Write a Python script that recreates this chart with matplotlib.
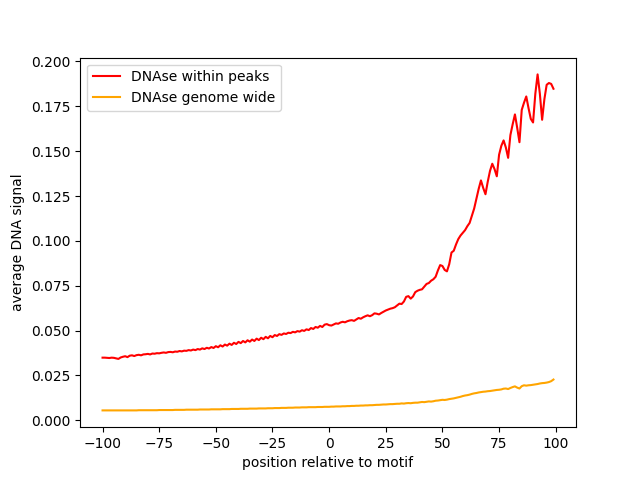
import numpy as np
import matplotlib.pyplot as plt

# positions relative to the motif
pos = np.arange(-100, 100)

# average DNAse signal within peaks
dnase_peaks = [
    0.0349, 0.0349, 0.0348, 0.0347, 0.0349, 0.0348, 0.0345, 0.0342, 0.0350, 0.0354,
    0.0357, 0.0352, 0.0360, 0.0362, 0.0358, 0.0363, 0.0365, 0.0362, 0.0367, 0.0368,
    0.0370, 0.0367, 0.0372, 0.0371, 0.0374, 0.0373, 0.0376, 0.0378, 0.0376, 0.0380,
    0.0381, 0.0379, 0.0383, 0.0382, 0.0386, 0.0384, 0.0388, 0.0387, 0.0391, 0.0389,
    0.0394, 0.0391, 0.0397, 0.0394, 0.0401, 0.0397, 0.0404, 0.0400, 0.0408, 0.0403,
    0.0413, 0.0407, 0.0418, 0.0411, 0.0422, 0.0416, 0.0427, 0.0420, 0.0432, 0.0425,
    0.0437, 0.0430, 0.0442, 0.0434, 0.0446, 0.0438, 0.0450, 0.0442, 0.0455, 0.0447,
    0.0460, 0.0452, 0.0465, 0.0457, 0.0470, 0.0463, 0.0475, 0.0470, 0.0480, 0.0476,
    0.0484, 0.0481, 0.0488, 0.0486, 0.0493, 0.0490, 0.0497, 0.0494, 0.0502, 0.0498,
    0.0507, 0.0503, 0.0514, 0.0509, 0.0520, 0.0516, 0.0526, 0.0520, 0.0533, 0.0536,
    0.0530, 0.0528, 0.0534, 0.0540, 0.0538, 0.0545, 0.0549, 0.0546, 0.0552, 0.0556,
    0.0558, 0.0554, 0.0562, 0.0570, 0.0566, 0.0574, 0.0580, 0.0585, 0.0580, 0.0586,
    0.0596, 0.0594, 0.0590, 0.0598, 0.0605, 0.0612, 0.0617, 0.0622, 0.0625, 0.0630,
    0.0640, 0.0650, 0.0648, 0.0662, 0.0688, 0.0692, 0.0678, 0.0690, 0.0714, 0.0722,
    0.0727, 0.0730, 0.0745, 0.0760, 0.0765, 0.0778, 0.0786, 0.0800, 0.0835, 0.0865,
    0.0860, 0.0838, 0.0830, 0.0870, 0.0935, 0.0945, 0.0980, 0.1010, 0.1030, 0.1045,
    0.1060, 0.1082, 0.1100, 0.1140, 0.1180, 0.1235, 0.1290, 0.1337, 0.1295, 0.1260,
    0.1330, 0.1390, 0.1430, 0.1400, 0.1360, 0.1480, 0.1530, 0.1560, 0.1520, 0.1463,
    0.1590, 0.1650, 0.1705, 0.1630, 0.1550, 0.1730, 0.1770, 0.1805, 0.1740, 0.1680,
    0.1660, 0.1820, 0.1928, 0.1820, 0.1675, 0.1790, 0.1870, 0.1880, 0.1875, 0.1848,
]

# average DNAse signal genome wide
dnase_genome = [
    0.0055, 0.0055, 0.0055, 0.0055, 0.0055, 0.0055, 0.0055, 0.0055, 0.0055, 0.0055,
    0.0055, 0.0055, 0.0055, 0.0055, 0.0055, 0.0055, 0.0056, 0.0056, 0.0056, 0.0056,
    0.0056, 0.0056, 0.0056, 0.0056, 0.0056, 0.0057, 0.0057, 0.0057, 0.0057, 0.0057,
    0.0057, 0.0057, 0.0058, 0.0058, 0.0058, 0.0058, 0.0058, 0.0059, 0.0059, 0.0059,
    0.0059, 0.0059, 0.0059, 0.0060, 0.0060, 0.0060, 0.0060, 0.0060, 0.0061, 0.0061,
    0.0061, 0.0061, 0.0061, 0.0062, 0.0062, 0.0062, 0.0062, 0.0063, 0.0063, 0.0063,
    0.0063, 0.0064, 0.0064, 0.0064, 0.0064, 0.0065, 0.0065, 0.0065, 0.0065, 0.0066,
    0.0066, 0.0066, 0.0066, 0.0067, 0.0067, 0.0067, 0.0068, 0.0068, 0.0068, 0.0069,
    0.0069, 0.0069, 0.0070, 0.0070, 0.0070, 0.0071, 0.0071, 0.0071, 0.0072, 0.0072,
    0.0072, 0.0073, 0.0073, 0.0073, 0.0073, 0.0074, 0.0074, 0.0074, 0.0075, 0.0075,
    0.0075, 0.0076, 0.0076, 0.0077, 0.0077, 0.0077, 0.0078, 0.0078, 0.0079, 0.0079,
    0.0080, 0.0080, 0.0081, 0.0081, 0.0082, 0.0082, 0.0083, 0.0083, 0.0084, 0.0084,
    0.0085, 0.0086, 0.0086, 0.0087, 0.0088, 0.0088, 0.0089, 0.0090, 0.0090, 0.0091,
    0.0092, 0.0092, 0.0094, 0.0093, 0.0095, 0.0096, 0.0095, 0.0097, 0.0098, 0.0098,
    0.0100, 0.0102, 0.0101, 0.0103, 0.0105, 0.0104, 0.0106, 0.0109, 0.0110, 0.0112,
    0.0114, 0.0113, 0.0115, 0.0118, 0.0120, 0.0122, 0.0125, 0.0128, 0.0131, 0.0135,
    0.0138, 0.0140, 0.0143, 0.0147, 0.0150, 0.0152, 0.0155, 0.0157, 0.0159, 0.0160,
    0.0162, 0.0163, 0.0165, 0.0167, 0.0169, 0.0170, 0.0172, 0.0176, 0.0177, 0.0174,
    0.0180, 0.0185, 0.0189, 0.0182, 0.0177, 0.0190, 0.0195, 0.0193, 0.0195, 0.0196,
    0.0198, 0.0200, 0.0202, 0.0205, 0.0207, 0.0208, 0.0210, 0.0213, 0.0218, 0.0227,
]

plt.figure(figsize=(6.4, 4.8), dpi=100)
plt.plot(pos, dnase_peaks, color='red', label='DNAse within peaks')
plt.plot(pos, dnase_genome, color='orange', label='DNAse genome wide')
plt.xlabel('position relative to motif')
plt.ylabel('average DNA signal')
plt.legend(loc='upper left')
plt.savefig('out.png')
